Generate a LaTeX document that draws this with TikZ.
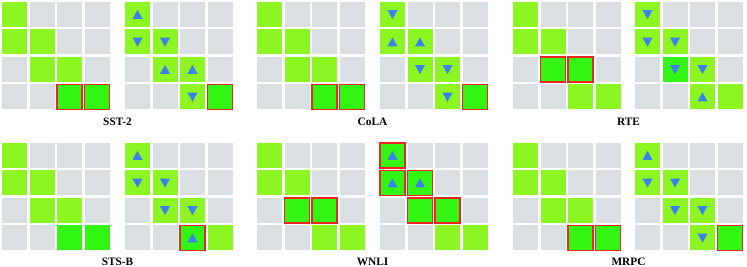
\documentclass[tikz,border=0pt]{standalone}
\usepackage{fontspec}
\setmainfont{Liberation Serif}
\definecolor{cellgray}{HTML}{DAE0E2}
\definecolor{cellgreen}{HTML}{8CF522}
\definecolor{hotgreen}{HTML}{33F514}
\definecolor{boxred}{HTML}{F02222}
\definecolor{triblue}{HTML}{3C80F0}
\tikzset{
  cell/.style={rectangle, minimum size=18.75pt, inner sep=0pt},
  gy/.style={fill=cellgray},
  lg/.style={fill=cellgreen},
  dg/.style={fill=hotgreen},
  rb/.style={fill=hotgreen, draw=boxred, line width=1.4pt},
  tup/.style={path picture={\fill[triblue]
      ([shift={(-3.75pt,-3.3pt)}]path picture bounding box.center) --
      ([shift={(3.75pt,-3.3pt)}]path picture bounding box.center) --
      ([shift={(0pt,3.5pt)}]path picture bounding box.center) -- cycle;}},
  tdn/.style={path picture={\fill[triblue]
      ([shift={(-3.75pt,3.3pt)}]path picture bounding box.center) --
      ([shift={(3.75pt,3.3pt)}]path picture bounding box.center) --
      ([shift={(0pt,-3.5pt)}]path picture bounding box.center) -- cycle;}},
  lu/.style={lg, tup}, ld/.style={lg, tdn},
  dd/.style={dg, tdn}, ru/.style={rb, tup},
  tasklabel/.style={font=\bfseries\fontsize{8.5}{10}\selectfont,
    inner sep=0pt, anchor=base}
}
% one 4x4 grid of cells, listed row by row
\newcommand\cellgrid[2]{%
  \foreach \code [count=\i from 0] in {#2} {
    \pgfmathtruncatemacro\col{mod(\i,4)}
    \pgfmathtruncatemacro\row{\i/4}
    \node[cell, \code] (#1-\i) at (12.5+27.5*\col, 12.5+27.5*\row) {};
  }}

\begin{document}
\begin{tikzpicture}[x=0.75pt, y=-0.75pt]
\useasboundingbox (0,0) rectangle (747,267);
% top row
\begin{scope}[shift={(2,2)}]
\cellgrid{sst-a}{lg,gy,gy,gy, lg,lg,gy,gy, gy,lg,lg,gy, gy,gy,rb,rb}
\begin{scope}[shift={(123,0)}]
\cellgrid{sst-b}{lu,gy,gy,gy, ld,ld,gy,gy, gy,lu,lu,gy, gy,gy,ld,rb}
\end{scope}
\node[tasklabel] (sst-label) at (115.5,124) {SST-2};
\end{scope}
\begin{scope}[shift={(257,2)}]
\cellgrid{cola-a}{lg,gy,gy,gy, lg,lg,gy,gy, gy,lg,lg,gy, gy,gy,rb,rb}
\begin{scope}[shift={(123,0)}]
\cellgrid{cola-b}{ld,gy,gy,gy, lu,lu,gy,gy, gy,ld,ld,gy, gy,gy,ld,rb}
\end{scope}
\node[tasklabel] (cola-label) at (115.5,124) {CoLA};
\end{scope}
\begin{scope}[shift={(513,2)}]
\cellgrid{rte-a}{lg,gy,gy,gy, lg,lg,gy,gy, gy,rb,rb,gy, gy,gy,lg,lg}
\begin{scope}[shift={(122,0)}]
\cellgrid{rte-b}{ld,gy,gy,gy, ld,ld,gy,gy, gy,dd,ld,gy, gy,gy,lu,lg}
\end{scope}
\node[tasklabel] (rte-label) at (115.5,124) {RTE};
\end{scope}
% bottom row
\begin{scope}[shift={(2,143)}]
\cellgrid{stsb-a}{lg,gy,gy,gy, lg,lg,gy,gy, gy,lg,lg,gy, gy,gy,dg,dg}
\begin{scope}[shift={(123,0)}]
\cellgrid{stsb-b}{lu,gy,gy,gy, ld,ld,gy,gy, gy,ld,ld,gy, gy,gy,ru,lg}
\end{scope}
\node[tasklabel] (stsb-label) at (115.5,122.5) {STS-B};
\end{scope}
\begin{scope}[shift={(257,143)}]
\cellgrid{wnli-a}{lg,gy,gy,gy, lg,lg,gy,gy, gy,rb,rb,gy, gy,gy,lg,lg}
\begin{scope}[shift={(123,0)}]
\cellgrid{wnli-b}{ru,gy,gy,gy, ru,ru,gy,gy, gy,rb,rb,gy, gy,gy,lg,lg}
\end{scope}
\node[tasklabel] (wnli-label) at (115.5,122.5) {WNLI};
\end{scope}
\begin{scope}[shift={(513,143)}]
\cellgrid{mrpc-a}{lg,gy,gy,gy, lg,lg,gy,gy, gy,lg,lg,gy, gy,gy,rb,rb}
\begin{scope}[shift={(122,0)}]
\cellgrid{mrpc-b}{lu,gy,gy,gy, ld,ld,gy,gy, gy,ld,ld,gy, gy,gy,ld,rb}
\end{scope}
\node[tasklabel] (mrpc-label) at (115.5,122.5) {MRPC};
\end{scope}
\end{tikzpicture}
\end{document}
